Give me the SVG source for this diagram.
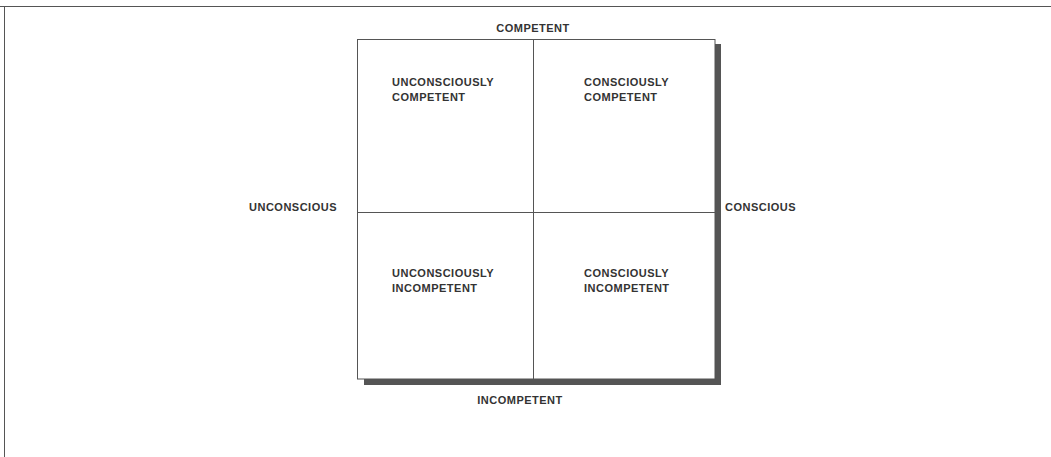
<svg xmlns="http://www.w3.org/2000/svg" width="1051" height="457" viewBox="0 0 1051 457">
<style>
.t{font-family:"Liberation Sans",Arial,sans-serif;font-weight:bold;font-size:11px;fill:#333;letter-spacing:0.5px}
.ln{stroke:#555;stroke-width:1;fill:none}
</style>
<rect width="1051" height="457" fill="#fff"/>
<g id="frame">
<line class="ln" x1="0" y1="6.5" x2="1051" y2="6.5"/>
<line class="ln" x1="4.5" y1="6" x2="4.5" y2="457"/>
</g>
<g id="grid">
<rect x="715" y="44" width="6" height="341" fill="#555"/>
<rect x="364" y="379" width="357" height="6" fill="#555"/>
<rect x="357.5" y="39.5" width="357.5" height="339.5" fill="#fff" stroke="#555" stroke-width="1"/>
</g>
<g id="connectors">
<line class="ln" x1="533.5" y1="39" x2="533.5" y2="379"/>
<line class="ln" x1="357" y1="212.5" x2="715" y2="212.5"/>
</g>
<g id="axis-top"><text class="t" x="533" y="32" text-anchor="middle">COMPETENT</text></g>
<g id="axis-bottom"><text class="t" x="520" y="404" text-anchor="middle">INCOMPETENT</text></g>
<g id="axis-left"><text class="t" x="249" y="211">UNCONSCIOUS</text></g>
<g id="axis-right"><text class="t" x="725" y="211">CONSCIOUS</text></g>
<g id="q-uc"><text class="t" x="392" y="86">UNCONSCIOUSLY</text><text class="t" x="392" y="101">COMPETENT</text></g>
<g id="q-cc"><text class="t" x="584" y="86">CONSCIOUSLY</text><text class="t" x="584" y="101">COMPETENT</text></g>
<g id="q-ui"><text class="t" x="392" y="277">UNCONSCIOUSLY</text><text class="t" x="392" y="292">INCOMPETENT</text></g>
<g id="q-ci"><text class="t" x="584" y="277">CONSCIOUSLY</text><text class="t" x="584" y="292">INCOMPETENT</text></g>
</svg>
